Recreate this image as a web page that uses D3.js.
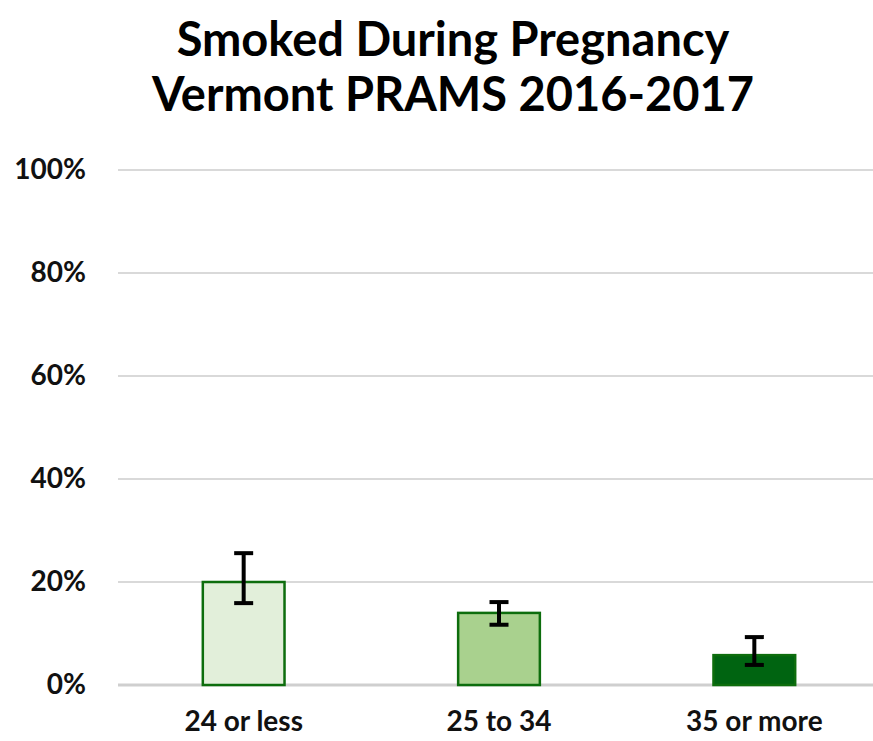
<!DOCTYPE html>
<html>
<head>
<meta charset="utf-8">
<script src="https://cdn.jsdelivr.net/npm/d3@7"></script>
<style>
  body { margin: 0; background: #fff; }
  svg { display: block; font-family: Lato, "Open Sans", sans-serif; }
</style>
</head>
<body>
<svg width="873" height="741"></svg>
<script>
// chart values
var categories = ["24 or less", "25 to 34", "35 or more"]
var values = [20.0, 14.0, 5.8]
var lower = [15.9, 11.7, 3.9]
var upper = [25.6, 16.1, 9.3]
var fills = ["#e2efda", "#a9d18e", "#006411"]
var yTicks = [0, 20, 40, 60, 80, 100]
var titleLines = ["Smoked During Pregnancy", "Vermont PRAMS 2016-2017"]

var svg = d3.select("svg")

var xScale = d3.scaleBand().domain(categories).range([116, 882]).paddingInner(0.68).paddingOuter(0.34)
var yScale = d3.scaleLinear().domain([0, 100]).range([685, 170])

// title
svg.append("g").selectAll("text")
    .data(titleLines)
    .enter()
    .append("text")
    .attr("x", 453)
    .attr("y", (d, i) => 56 + i * 55)
    .attr("text-anchor", "middle")
    .attr("font-size", 47)
    .attr("font-weight", "bold")
    .text(d => d)

// gridlines
svg.append("g").selectAll("line")
    .data(yTicks)
    .enter()
    .append("line")
    .attr("x1", 118)
    .attr("x2", 873)
    .attr("y1", d => yScale(d))
    .attr("y2", d => yScale(d))
    .attr("stroke", d => d === 0 ? "#cfcfcf" : "#d9d9d9")
    .attr("stroke-width", d => d === 0 ? 3 : 2)

// y axis labels
var yAxis = d3.axisLeft(yScale).tickValues(yTicks).tickFormat(d => d + "%").tickSize(0).tickPadding(0)
svg.append("g")
    .attr("transform", "translate(86,0)")
    .call(yAxis)
    .call(g => g.select(".domain").remove())
    .selectAll("text")
    .attr("font-size", 28)
    .attr("font-weight", "bold")
    .attr("font-family", "Lato, 'Open Sans', sans-serif")
    .attr("fill", "#111")

// bars
svg.append("g").selectAll("rect")
    .data(categories)
    .enter()
    .append("rect")
    .attr("x", d => xScale(d))
    .attr("width", xScale.bandwidth())
    .attr("y", (d, i) => yScale(values[i]))
    .attr("height", (d, i) => yScale(0) - yScale(values[i]))
    .attr("fill", (d, i) => fills[i])
    .attr("stroke", "#0d6d0d")
    .attr("stroke-width", 2.5)

// error bars
var errs = svg.append("g").selectAll("g")
    .data(categories)
    .enter()
    .append("g")
    .attr("stroke", "#000")
    .attr("stroke-width", 4)

errs.append("line")
    .attr("x1", d => xScale(d) + xScale.bandwidth() / 2)
    .attr("x2", d => xScale(d) + xScale.bandwidth() / 2)
    .attr("y1", (d, i) => yScale(lower[i]))
    .attr("y2", (d, i) => yScale(upper[i]))

errs.selectAll(".cap")
    .data((d, i) => [{c: d, v: lower[i]}, {c: d, v: upper[i]}])
    .enter()
    .append("line")
    .attr("class", "cap")
    .attr("x1", d => xScale(d.c) + xScale.bandwidth() / 2 - 9.5)
    .attr("x2", d => xScale(d.c) + xScale.bandwidth() / 2 + 9.5)
    .attr("y1", d => yScale(d.v))
    .attr("y2", d => yScale(d.v))

// x axis labels
var xAxis = d3.axisBottom(xScale).tickSize(0).tickPadding(0)
svg.append("g")
    .attr("transform", "translate(0,711)")
    .call(xAxis)
    .call(g => g.select(".domain").remove())
    .selectAll("text")
    .attr("font-size", 28)
    .attr("font-weight", "bold")
    .attr("font-family", "Lato, 'Open Sans', sans-serif")
    .attr("fill", "#111")
</script>
</body>
</html>
